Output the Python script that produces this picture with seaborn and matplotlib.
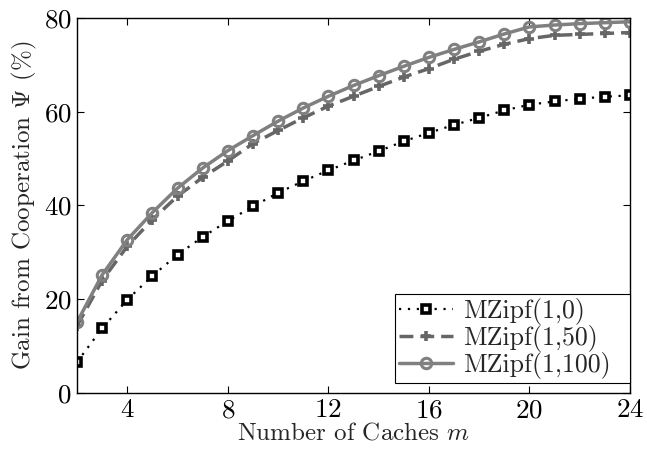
import numpy as np
import pandas as pd
import matplotlib
matplotlib.use("Agg")
import matplotlib.pyplot as plt
import seaborn as sns

m = list(range(2, 25))
zipf_1_0 = [6.6, 13.8, 19.9, 25.0, 29.5, 33.3, 36.7, 39.8, 42.7, 45.2, 47.5, 49.6,
            51.6, 53.7, 55.5, 57.2, 58.7, 60.3, 61.5, 62.2, 62.8, 63.2, 63.5]
zipf_1_50 = [14.3, 24.0, 31.3, 37.0, 42.0, 46.0, 49.5, 53.2, 56.0, 58.7, 61.2, 63.3,
             65.4, 67.4, 69.2, 71.2, 72.9, 74.4, 75.6, 76.3, 76.5, 76.7, 76.9]
zipf_1_100 = [15.1, 25.2, 32.7, 38.5, 43.7, 48.0, 51.7, 54.9, 58.0, 60.8, 63.3, 65.6,
              67.7, 69.7, 71.6, 73.3, 74.9, 76.6, 78.1, 78.5, 78.8, 79.0, 79.2]
labels = ["MZipf(1,0)", "MZipf(1,50)", "MZipf(1,100)"]
x_ticks = [4, 8, 12, 16, 20, 24]
y_ticks = [0, 20, 40, 60, 80]

sns.set_theme(style="ticks")
plt.rcParams["font.family"] = ["cmr10", "DejaVu Serif"]
plt.rcParams["mathtext.fontset"] = "cm"
plt.rcParams["axes.formatter.use_mathtext"] = True
plt.rcParams["axes.unicode_minus"] = False

fig = plt.figure(figsize=(6.47, 4.51), dpi=100)
ax = fig.add_axes([77/647, 1-393/451, (630-77)/647, (393-18)/451])

styles = [
    dict(color="black", linestyle=(0, (1, 3)), marker="s", markersize=5.5,
         markerfacecolor="white", markeredgecolor="black", markeredgewidth=2.6, linewidth=1.6),
    dict(color="#666666", linestyle=(0, (4, 2)), marker="+", markersize=7.5,
         markeredgecolor="#666666", markeredgewidth=2.6, linewidth=2.5),
    dict(color="#808080", linestyle="-", marker="o", markersize=7.5,
         markerfacecolor="none", markeredgecolor="#808080", markeredgewidth=2.2, linewidth=2.5),
]
series = [zipf_1_0, zipf_1_50, zipf_1_100]
for vals, lab, st in zip(series, labels, styles):
    df = pd.DataFrame({"m": m, "v": vals})
    sns.lineplot(data=df, x="m", y="v", ax=ax, label=lab, **st)

ax.set_xlim(2, 24)
ax.set_ylim(0, 80)
ax.set_xticks(x_ticks)
ax.set_yticks(y_ticks)
ax.tick_params(direction="in", top=True, right=True, labelsize=19.5, length=5, width=0.8,
               colors="black", pad=4)
for s in ax.spines.values():
    s.set_linewidth(1.0)
    s.set_color("black")
ax.set_xlabel("Number of Caches $m$", fontsize=18, labelpad=0)
ax.set_ylabel("Gain from Cooperation $\\Psi$ (%)", fontsize=18, labelpad=3)
x0 = (395 - 77) / 553
leg = ax.legend(loc="lower left", bbox_to_anchor=(x0, 10/375, 1.0 - x0, 0.25), mode="expand",
                fontsize=18.6, frameon=True, fancybox=False, edgecolor="black", framealpha=1,
                handlelength=2.1, handletextpad=0.4, borderpad=0.15,
                labelspacing=0.0, borderaxespad=0.0)
leg.get_frame().set_linewidth(0.8)
fig.savefig("out.png", dpi=100)
